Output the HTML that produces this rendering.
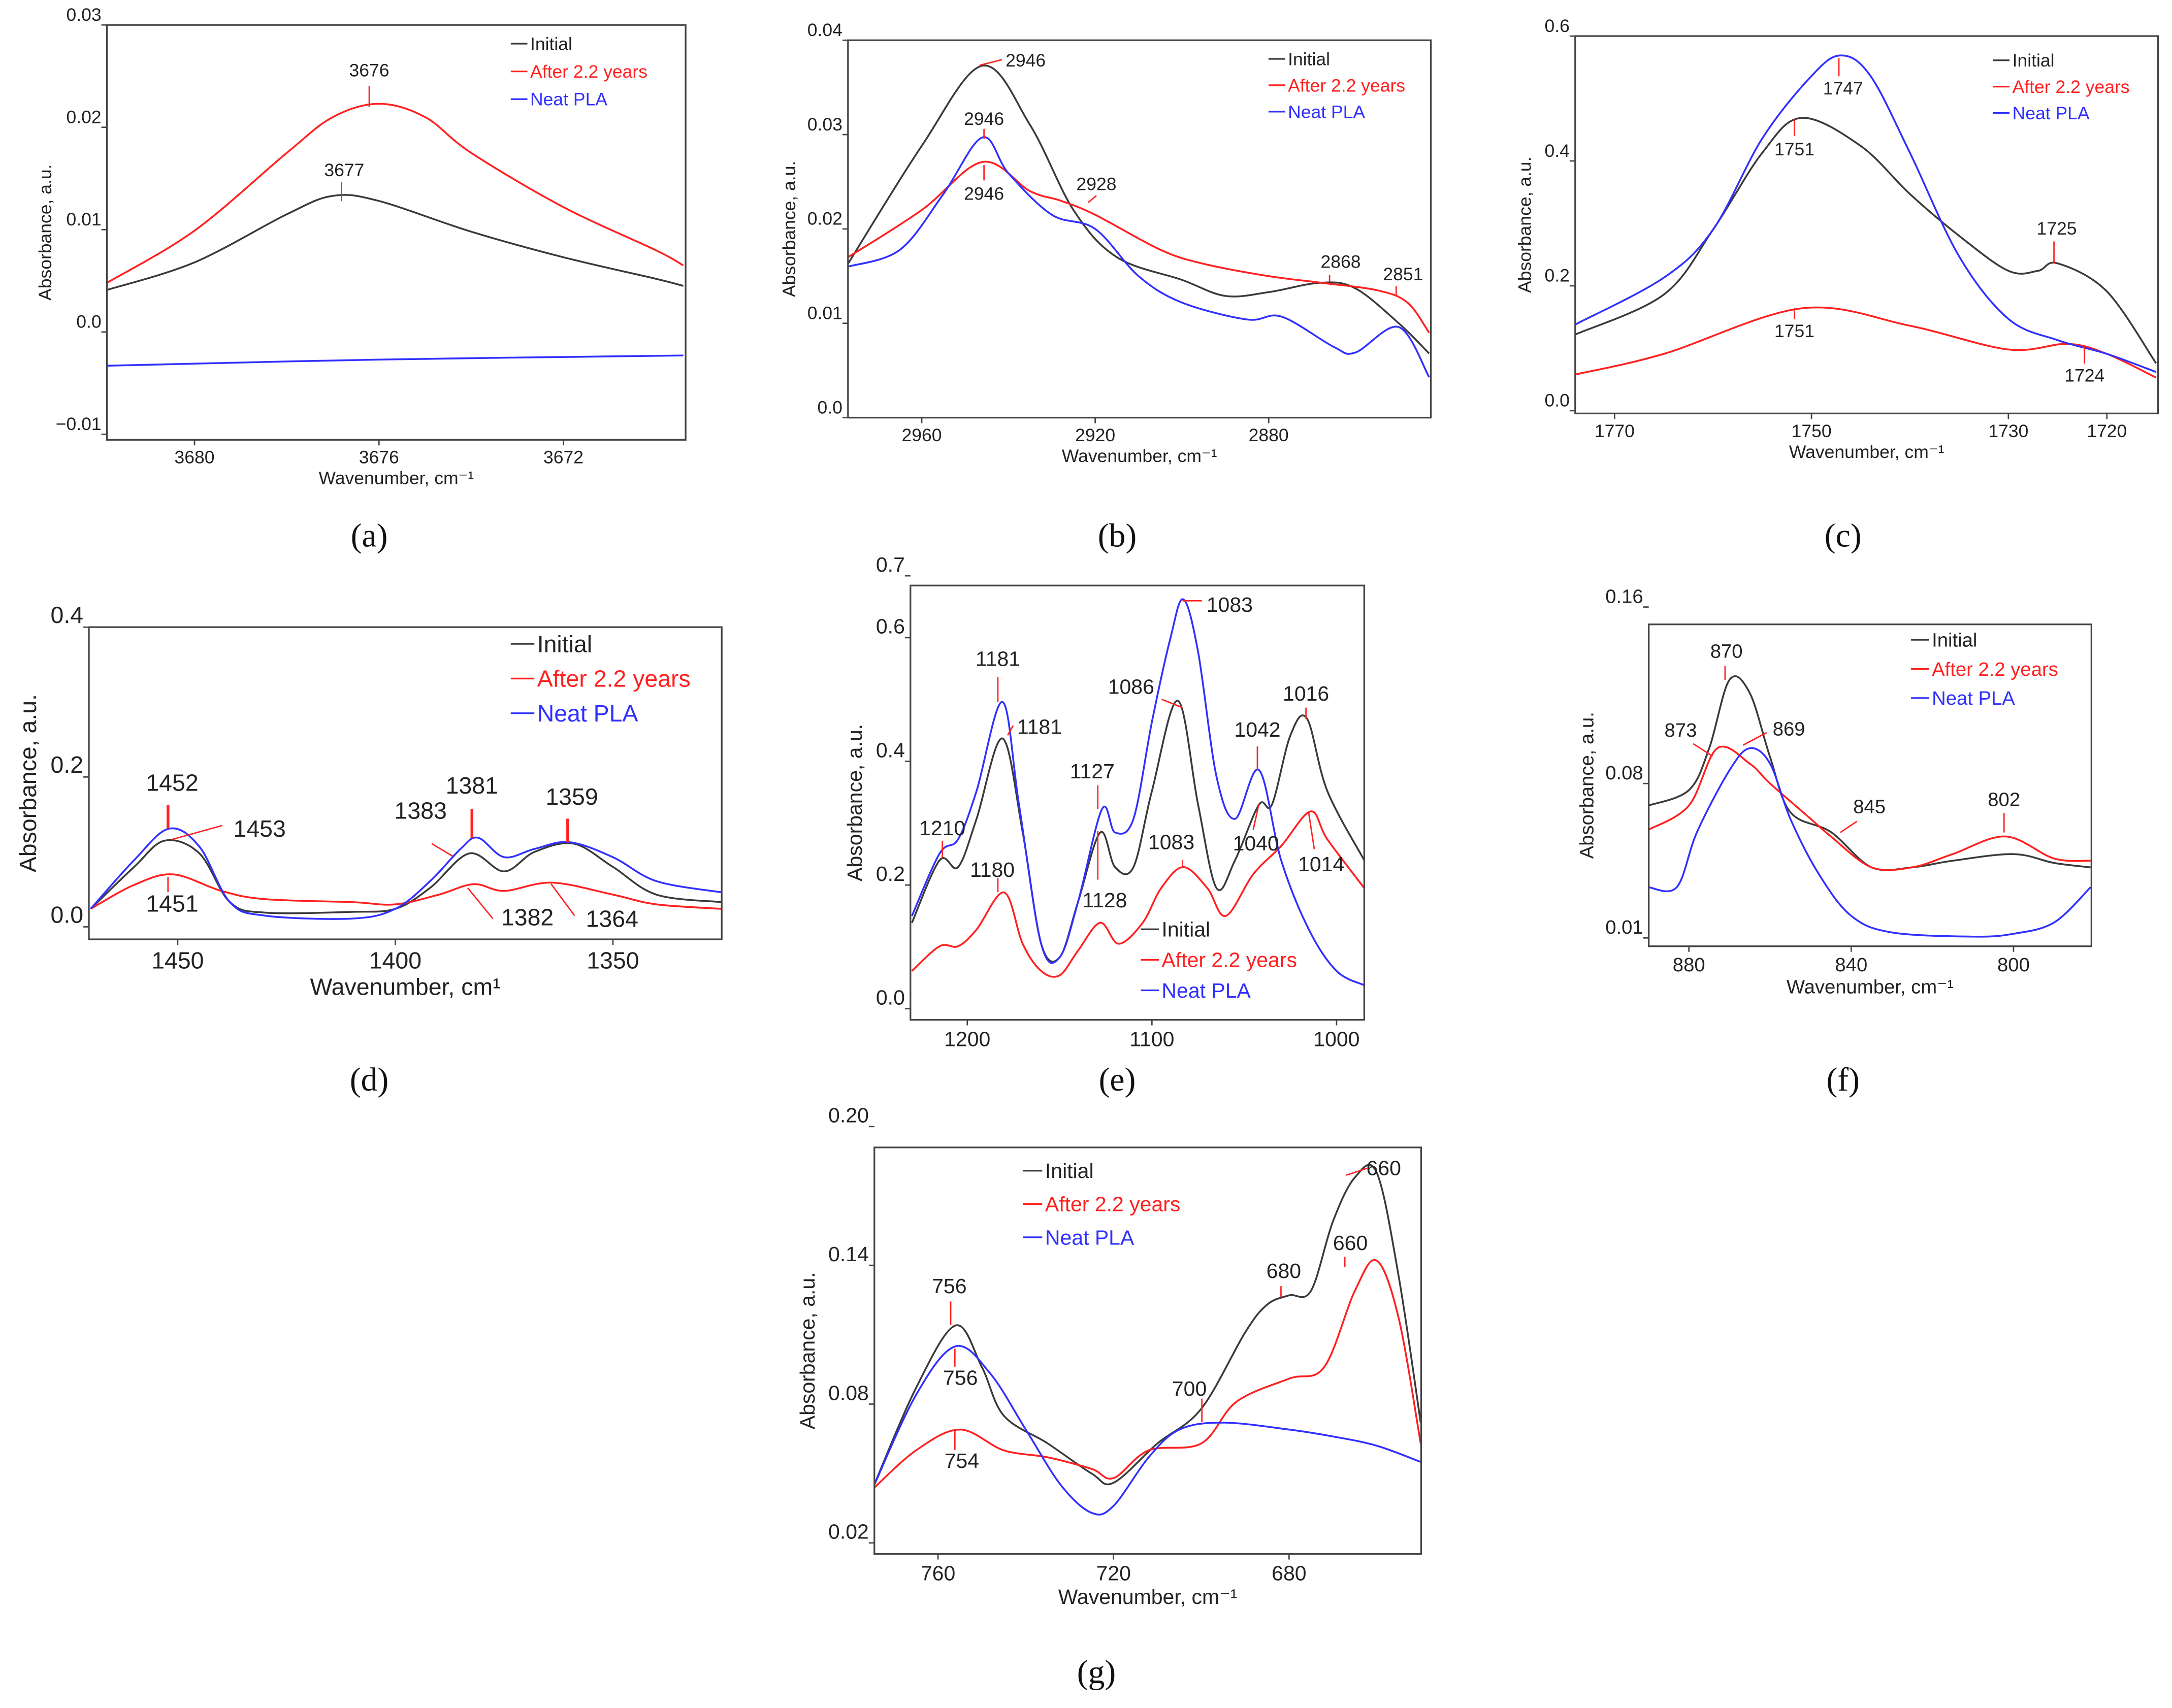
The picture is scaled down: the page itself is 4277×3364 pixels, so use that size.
<!DOCTYPE html>
<html><head><meta charset="utf-8"><style>
html,body{margin:0;padding:0;background:#fff}
svg{display:block}
text{font-family:"Liberation Sans",sans-serif}
text.serif{font-family:"Liberation Serif",serif}
</style></head><body>
<svg id="fig" xmlns="http://www.w3.org/2000/svg" width="4277" height="3364" viewBox="0 0 1565 1231"></svg>
<script>
// ---- data arrays (wavenumber, absorbance) ----
const aWn=[3681.9,3680,3678,3677,3676,3674,3672,3670,3669.4];
const aInitial=[0.0041,0.0068,0.0115,0.0133,0.0128,0.0098,0.0073,0.0052,0.0045];
const aAfterWn=[3681.9,3680,3678,3677,3676,3675,3674,3672,3670,3669.4];
const aAfter=[0.0048,0.0099,0.0175,0.021,0.0223,0.021,0.0175,0.0122,0.008,0.0065];
const aNeatWn=[3681.9,3676,3669.4];
const aNeat=[-0.0033,-0.0027,-0.0023];

const bInitialWn=[2977,2960,2946,2935,2925,2915,2900,2890,2880,2868,2860,2850,2843];
const bInitial=[0.0163,0.0288,0.0373,0.031,0.022,0.017,0.0146,0.0129,0.0133,0.0143,0.0137,0.01,0.0068];
const bAfterWn=[2977,2960,2946,2935,2928,2920,2905,2895,2880,2868,2855,2848,2843];
const bAfter=[0.017,0.022,0.0271,0.024,0.023,0.0215,0.0178,0.0163,0.015,0.0143,0.0135,0.0122,0.009];
const bNeatWn=[2977,2965,2955,2946,2940,2930,2920,2910,2900,2885,2877,2865,2860,2850,2843];
const bNeat=[0.016,0.0178,0.0237,0.0297,0.0259,0.0215,0.02,0.015,0.0122,0.0104,0.0107,0.0075,0.0069,0.0096,0.0043];

const cInitialWn=[1774,1765,1760,1755,1751,1745,1740,1735,1730,1727,1725,1720,1715];
const cInitial=[0.122,0.186,0.29,0.413,0.469,0.424,0.347,0.28,0.224,0.224,0.236,0.191,0.076];
const cNeatWn=[1774,1765,1760,1755,1750,1747,1744,1740,1735,1730,1725,1720,1715];
const cNeat=[0.138,0.213,0.29,0.436,0.536,0.569,0.536,0.413,0.247,0.147,0.113,0.091,0.062];
const cAfterWn=[1774,1765,1751,1740,1730,1724,1720,1715];
const cAfter=[0.058,0.091,0.164,0.136,0.098,0.107,0.091,0.053];

const dNeatWn=[1470,1460,1452,1445,1438,1430,1410,1400,1392,1385,1381,1375,1368,1360,1350,1340,1325];
const dNeat=[0.024,0.089,0.131,0.107,0.033,0.015,0.011,0.024,0.061,0.104,0.119,0.093,0.104,0.113,0.093,0.061,0.046];
const dInitialWn=[1470,1460,1453,1445,1438,1430,1410,1400,1392,1383,1375,1368,1359,1350,1340,1325];
const dInitial=[0.024,0.08,0.115,0.098,0.033,0.019,0.02,0.024,0.052,0.098,0.074,0.1,0.111,0.08,0.043,0.033];
const dAfterWn=[1470,1460,1451,1440,1430,1410,1400,1390,1382,1375,1364,1350,1340,1325];
const dAfter=[0.024,0.056,0.07,0.048,0.037,0.033,0.03,0.043,0.057,0.048,0.059,0.043,0.03,0.024];

const eInitialWn=[1230,1215,1205,1195,1181,1170,1160,1150,1140,1128,1120,1110,1100,1086,1075,1065,1055,1042,1035,1025,1016,1005,985];
const eInitial=[0.139,0.24,0.229,0.307,0.437,0.285,0.105,0.083,0.173,0.285,0.229,0.229,0.352,0.498,0.33,0.195,0.24,0.33,0.33,0.442,0.469,0.352,0.24];
const eNeatWn=[1230,1215,1205,1195,1181,1172,1160,1150,1140,1127,1120,1110,1100,1090,1083,1075,1065,1055,1042,1030,1015,1000,985];
const eNeat=[0.15,0.251,0.274,0.352,0.496,0.33,0.105,0.083,0.173,0.323,0.285,0.307,0.464,0.599,0.662,0.577,0.375,0.307,0.386,0.24,0.128,0.061,0.038];
const eAfterWn=[1230,1215,1205,1195,1180,1170,1160,1150,1140,1128,1118,1105,1095,1083,1070,1060,1045,1030,1014,1005,985];
const eAfter=[0.061,0.101,0.101,0.128,0.188,0.105,0.061,0.054,0.094,0.139,0.105,0.139,0.195,0.229,0.195,0.15,0.218,0.263,0.319,0.274,0.195];

const fInitialWn=[890,880,875,870,865,860,855,845,835,825,815,800,790,781];
const fInitial=[0.07,0.077,0.096,0.127,0.121,0.092,0.067,0.058,0.042,0.042,0.045,0.048,0.044,0.042];
const fAfterWn=[890,880,873,865,860,850,845,835,825,815,802,790,781];
const fAfter=[0.059,0.07,0.096,0.089,0.08,0.064,0.056,0.042,0.042,0.048,0.056,0.046,0.045];
const fNeatWn=[890,883,878,870,865,860,855,848,840,830,810,800,790,781];
const fNeat=[0.033,0.033,0.058,0.086,0.096,0.089,0.064,0.039,0.02,0.0125,0.0106,0.0119,0.017,0.033];

const gInitialWn=[775,765,756,750,745,735,725,720,710,700,690,685,680,675,670,665,660,655,650];
const gInitial=[0.043,0.087,0.114,0.096,0.075,0.063,0.05,0.046,0.063,0.078,0.111,0.123,0.127,0.129,0.159,0.178,0.18,0.135,0.072];
const gNeatWn=[775,765,756,748,740,732,725,720,712,705,695,680,670,660,650];
const gNeat=[0.043,0.084,0.105,0.093,0.069,0.045,0.033,0.036,0.057,0.069,0.072,0.069,0.066,0.062,0.055];
const gAfterWn=[775,765,755,745,735,725,720,712,700,692,680,672,665,660,655,650];
const gAfter=[0.043,0.06,0.069,0.06,0.057,0.052,0.048,0.06,0.063,0.081,0.091,0.096,0.129,0.142,0.117,0.063];

const NS="http://www.w3.org/2000/svg";
const svg=document.getElementById('fig');
const COL={k:'#3a3a3a',r:'#ff2020',b:'#3030ff'};
function el(tag,attrs,parent){const e=document.createElementNS(NS,tag);for(const k in attrs)e.setAttribute(k,attrs[k]);(parent||svg).appendChild(e);return e;}
function txt(s,x,y,size,fill,anchor,parent,extra){const t=el('text',Object.assign({x:x,y:y,'font-size':size,fill:fill||'#222','text-anchor':anchor||'start'},extra||{}),parent);t.textContent=s;return t;}
function smooth(pts){let d='M'+pts[0][0].toFixed(2)+','+pts[0][1].toFixed(2);
 for(let i=0;i<pts.length-1;i++){const p0=pts[Math.max(0,i-1)],p1=pts[i],p2=pts[i+1],p3=pts[Math.min(pts.length-1,i+2)];
 const c1=[p1[0]+(p2[0]-p0[0])/6,p1[1]+(p2[1]-p0[1])/6],c2=[p2[0]-(p3[0]-p1[0])/6,p2[1]-(p3[1]-p1[1])/6];
 d+='C'+c1[0].toFixed(2)+','+c1[1].toFixed(2)+' '+c2[0].toFixed(2)+','+c2[1].toFixed(2)+' '+p2[0].toFixed(2)+','+p2[1].toFixed(2);}return d;}

function panel(cfg){
 const g=el('g',{});
 
 
 const X=w=>cfg.x0+(cfg.wL-w)/(cfg.wL-cfg.wR)*(cfg.x1-cfg.x0);
 const Y=v=>cfg.yz+(cfg.vz-v)*cfg.k;
 const cp=el('clipPath',{id:'clip-'+cfg.name},g);
 el('rect',{x:cfg.x0,y:cfg.y0,width:cfg.x1-cfg.x0,height:cfg.y1-cfg.y0},cp);
 cfg.series.forEach(s=>{
  const p=el('path',{d:smooth(s.wn.map((w,i)=>[X(w),Y(s.v[i])])),fill:'none',stroke:COL[s.c],'stroke-width':1.3,'clip-path':'url(#clip-'+cfg.name+')'},g);
  
  
 });
 const frame=el('rect',{x:cfg.x0,y:cfg.y0,width:cfg.x1-cfg.x0,height:cfg.y1-cfg.y0,fill:'none',stroke:'#444','stroke-width':1.2},g);
 
 
 const fs=cfg.fs||13;
 cfg.yt.forEach((v,i)=>{const y=Y(v);el('line',{x1:cfg.x0-4,x2:cfg.x0,y1:y,y2:y,stroke:'#444'},g);
  const t=txt(cfg.ytl[i],cfg.x0-4,y-3,fs,'#222','end',g);});
 cfg.xt.forEach(w=>{const x=X(w);el('line',{x1:x,x2:x,y1:cfg.y1,y2:cfg.y1+4,stroke:'#444'},g);
  const t=txt(String(w),x,cfg.y1+fs+4,fs,'#222','middle',g);});
 const xt=txt(cfg.xlab,(cfg.x0+cfg.x1)/2,cfg.y1+fs*2+6,fs,'#222','middle',g);
 
 const yx=cfg.x0-(cfg.ytoff||38),yy=(cfg.y0+cfg.y1)/2;
 const yt=txt('Absorbance, a.u.',yx,yy,fs,'#222','middle',g,{transform:'rotate(-90 '+yx+' '+yy+')'});
 
 const lg=el('g',{},g);
 [['Initial','k'],['After 2.2 years','r'],['Neat PLA','b']].forEach((L,i)=>{const y=cfg.lg[1]+i*cfg.lgs;
  el('line',{x1:cfg.lg[0],x2:cfg.lg[0]+cfg.lgw,y1:y-fs*0.35,y2:y-fs*0.35,stroke:COL[L[1]],'stroke-width':1.2},lg);
  const t=txt(L[0],cfg.lg[0]+cfg.lgw+2,y,cfg.lfs||fs,L[1]=='k'?'#222':COL[L[1]],'start',lg);});
 cfg.ann.forEach(a=>{el('line',{x1:a[3],y1:a[4],x2:a[5],y2:a[6],stroke:'#f22','stroke-width':a[7]||1},g);
  const t=txt(a[0],a[1],a[2],cfg.afs||fs,'#222','middle',g);});
 const pl=txt(cfg.letter,cfg.lx,cfg.ly,24,'#111','middle',g,{'class':'serif'});
 
}

panel({name:'panel-a',x0:77,x1:494,y0:18,y1:317,wL:3681.9,wR:3669.35,vz:0.03,yz:18,k:7375,
 yt:[0.03,0.02,0.01,0,-0.01],ytl:['0.03','0.02','0.01','0.0','\u22120.01'],xt:[3680,3676,3672],
 xlab:'Wavenumber, cm\u207B\u00B9',ytoff:40,lg:[368,36],lgs:20,lgw:12,letter:'(a)',lx:266,ly:394,
 series:[{n:'initial-line',c:'k',wn:aWn,v:aInitial},{n:'after-line',c:'r',wn:aAfterWn,v:aAfter},{n:'neat-pla-line',c:'b',wn:aNeatWn,v:aNeat}],
 ann:[['3676',266,55,266,62,266,77],['3677',248,127,246,131,246,145]]});

panel({name:'panel-b',x0:611,x1:1031,y0:29,y1:301,wL:2977,wR:2842.6,vz:0.04,yz:29,k:6800,
 yt:[0.04,0.03,0.02,0.01,0],ytl:['0.04','0.03','0.02','0.01','0.0'],xt:[2960,2920,2880],
 xlab:'Wavenumber, cm\u207B\u00B9',ytoff:38,lg:[914,47],lgs:19,lgw:12,letter:'(b)',lx:805,ly:394,
 series:[{n:'initial-line',c:'k',wn:bInitialWn,v:bInitial},{n:'after-line',c:'r',wn:bAfterWn,v:bAfter},{n:'neat-pla-line',c:'b',wn:bNeatWn,v:bNeat}],
 ann:[['2946',739,48,706,47,722,43],['2946',709,90,709,93,709,100],['2946',709,144,709,119,709,130],['2928',790,137,784,146,790,141],['2868',966,193,958,198,958,203],['2851',1011,202,1006,206,1006,213]]});

panel({name:'panel-c',x0:1135,x1:1555,y0:26,y1:298,wL:1774,wR:1714.8,vz:0,yz:296,k:450,
 yt:[0.6,0.4,0.2,0],ytl:['0.6','0.4','0.2','0.0'],xt:[1770,1750,1730,1720],
 xlab:'Wavenumber, cm\u207B\u00B9',ytoff:32,lg:[1436,48],lgs:19,lgw:12,letter:'(c)',lx:1328,ly:394,
 series:[{n:'initial-line',c:'k',wn:cInitialWn,v:cInitial},{n:'after-line',c:'r',wn:cAfterWn,v:cAfter},{n:'neat-pla-line',c:'b',wn:cNeatWn,v:cNeat}],
 ann:[['1747',1328,68,1325,42,1325,55],['1751',1293,112,1293,86,1293,98],['1725',1482,169,1480,174,1480,190],['1751',1293,243,1293,222,1293,230],['1724',1502,275,1502,250,1502,262]]});

panel({name:'panel-d',x0:64,x1:520,y0:452,y1:677,wL:1470.4,wR:1325,vz:0,yz:668,k:540,fs:17,afs:17,
 yt:[0.4,0.2,0],ytl:['0.4','0.2','0.0'],xt:[1450,1400,1350],
 xlab:'Wavenumber, cm\u00B9',ytoff:38,lg:[368,470],lgs:25,lgw:17,letter:'(d)',lx:266,ly:786,
 series:[{n:'initial-line',c:'k',wn:dInitialWn,v:dInitial},{n:'after-line',c:'r',wn:dAfterWn,v:dAfter},{n:'neat-pla-line',c:'b',wn:dNeatWn,v:dNeat}],
 ann:[['1452',124,570,121,580,121,597,2],['1453',187,603,124,605,160,595],['1451',124,657,121,632,121,643],['1383',303,590,311,608,326,617],['1381',340,572,340,583,340,604,2],['1359',412,580,409,590,409,607,2],['1382',380,667,337,640,355,662],['1364',441,668,397,637,414,660]]});

panel({name:'panel-e',x0:656,x1:983,y0:422,y1:735,wL:1230.8,wR:985,vz:0,yz:727,k:445.7,fs:15,afs:15,
 yt:[0.7,0.6,0.4,0.2,0],ytl:['0.7','0.6','0.4','0.2','0.0'],xt:[1200,1100,1000],
 xlab:'',ytoff:35,lg:[822,675],lgs:22,lgw:13,letter:'(e)',lx:805,ly:786,
 series:[{n:'initial-line',c:'k',wn:eInitialWn,v:eInitial},{n:'after-line',c:'r',wn:eAfterWn,v:eAfter},{n:'neat-pla-line',c:'b',wn:eNeatWn,v:eNeat}],
 ann:[['1181',719,480,719,488,719,506],['1181',749,529,726,530,730,523],['1210',679,602,679,606,679,618],['1127',787,561,791,566,791,583],['1086',815,500,837,504,852,510],['1083',886,441,852,433,866,433],['1042',906,531,906,538,906,555],['1016',941,505,941,510,941,518],['1180',715,632,719,633,719,643],['1128',796,654,791,599,791,634],['1083',844,612,852,620,852,625],['1040',905,613,907,580,903,598],['1014',952,628,943,586,947,612]]});

panel({name:'panel-f',x0:1188,x1:1507,y0:450,y1:682,wL:889.9,wR:780.8,vz:0.01,yz:676,k:1590,fs:14,afs:14,
 yt:[0.16,0.08,0.01],ytl:['0.16','0.08','0.01'],xt:[880,840,800],
 xlab:'Wavenumber, cm\u207B\u00B9',ytoff:40,lg:[1377,466],lgs:21,lgw:13,letter:'(f)',lx:1328,ly:786,
 series:[{n:'initial-line',c:'k',wn:fInitialWn,v:fInitial},{n:'after-line',c:'r',wn:fAfterWn,v:fAfter},{n:'neat-pla-line',c:'b',wn:fNeatWn,v:fNeat}],
 ann:[['870',1244,474,1243,480,1243,490],['873',1211,531,1220,536,1234,545],['869',1289,530,1256,537,1273,528],['845',1347,586,1326,600,1338,592],['802',1444,581,1444,586,1444,600]]});

panel({name:'panel-g',x0:630,x1:1024,y0:827,y1:1120,wL:774.5,wR:649.9,vz:0.02,yz:1112,k:1667,fs:15,afs:15,
 yt:[0.2,0.14,0.08,0.02],ytl:['0.20','0.14','0.08','0.02'],xt:[760,720,680],
 xlab:'Wavenumber, cm\u207B\u00B9',ytoff:43,lg:[737,849],lgs:24,lgw:14,letter:'(g)',lx:790,ly:1213,
 series:[{n:'initial-line',c:'k',wn:gInitialWn,v:gInitial},{n:'after-line',c:'r',wn:gAfterWn,v:gAfter},{n:'neat-pla-line',c:'b',wn:gNeatWn,v:gNeat}],
 ann:[['756',684,932,685,938,685,955],['756',692,998,688,972,688,985],['754',693,1058,688,1030,688,1045],['700',857,1006,866,1008,866,1025],['680',925,921,923,927,923,935],['660',997,847,970,847,985,842],['660',973,901,969,906,969,913]]});
</script>
</body></html>
